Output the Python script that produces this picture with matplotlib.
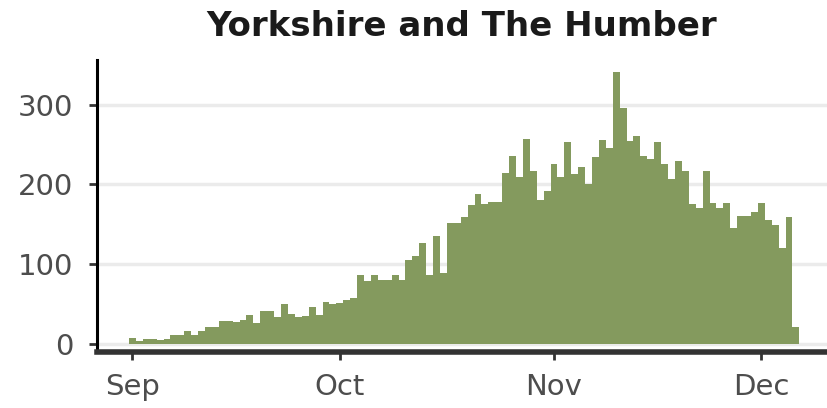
import pandas as pd
import numpy as np
import matplotlib
matplotlib.use('Agg')
from matplotlib import pyplot as plt

# Daily counts, 1 Sep - 6 Dec
sep_counts = [8, 4, 7, 7, 5, 7, 12, 11, 17, 12, 16, 21, 21, 29, 29,
              28, 30, 36, 26, 41, 41, 34, 50, 38, 34, 35, 46, 36, 53, 50]
oct_counts = [52, 55, 58, 86, 79, 86, 80, 80, 87, 80, 105, 110, 127, 86, 136,
              89, 152, 152, 159, 174, 188, 176, 178, 178, 214, 236, 209, 257, 217, 180, 192]
nov_counts = [226, 210, 253, 213, 222, 200, 234, 256, 246, 341, 296, 255, 261, 236, 232,
              253, 226, 207, 230, 217, 175, 171, 217, 177, 171, 177, 146, 161, 161, 165]
dec_counts = [177, 155, 149, 121, 159, 22]

counts = sep_counts + oct_counts + nov_counts + dec_counts
dates = pd.date_range('2020-09-01', periods=len(counts), freq='D')

region = 'Yorkshire and The Humber'
bar_colour = '#849A5E'
y_ticks = [0, 100, 200, 300]
month_ticks = ['2020-09-01', '2020-10-01', '2020-11-01', '2020-12-01']
month_labels = ['Sep', 'Oct', 'Nov', 'Dec']

fig = plt.figure(figsize=(8.27, 4.08), dpi=100)
ax = fig.add_axes([0.117, 0.137, 0.883, 0.716])

ax.bar(dates, counts, width=1.0, color=bar_colour, linewidth=0, zorder=2)

ax.set_xlim(pd.Timestamp('2020-08-26 20:00'), pd.Timestamp('2020-12-10 12:00'))
ax.set_ylim(-10, 356)

ax.set_yticks(y_ticks)
ax.set_xticks(pd.to_datetime(month_ticks))
ax.set_xticklabels(month_labels)

ax.grid(axis='y', color='#ebebeb', linewidth=2.5, zorder=0)
ax.set_axisbelow(True)

for side in ['top', 'right']:
    ax.spines[side].set_visible(False)
ax.spines['left'].set_color('black')
ax.spines['left'].set_linewidth(2.2)
ax.spines['bottom'].set_color('#333333')
ax.spines['bottom'].set_linewidth(4)

ax.tick_params(axis='both', labelsize=21, labelcolor='#4d4d4d', color='#333333',
               width=2, length=6)
ax.tick_params(axis='x', pad=9)
ax.tick_params(axis='y', pad=11)

ax.set_title(region, fontsize=24.5, fontweight='bold', color='#1a1a1a', pad=17)

fig.savefig('out.png', dpi=100)
